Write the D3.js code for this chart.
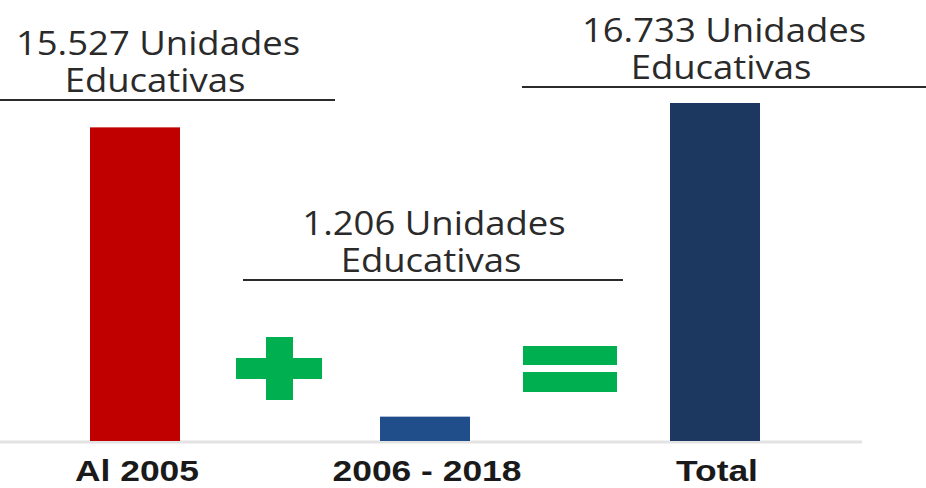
<!DOCTYPE html>
<html lang="es">
<head>
    <meta charset="UTF-8">
    <title>Unidades Educativas</title>
    <script src="https://d3js.org/d3.v7.min.js"></script>
    <style>
        html, body { margin: 0; padding: 0; background: #fff; }
        svg { display: block; }
    </style>
</head>
<body>
    <div id="chart"></div>
    <script>

// datos
const categories = ["Al 2005", "2006 - 2018", "Total"];
const values = [15527, 1206, 16733];
const barColors = ["#c00000", "#1f4e8a", "#1c3760"];
const labelLine1 = ["15.527 Unidades", "1.206 Unidades", "16.733 Unidades"];
const labelLine2 = ["Educativas", "Educativas", "Educativas"];

// layout of the annotation blocks (text offset from bar centre, underline y, underline span)
const annot = [
    { dx: 23, lineY: 100, x0: 0, x1: 335 },
    { dx: 9, lineY: 280, x0: 243, x1: 623 },
    { dx: 9, lineY: 87, x0: 522, x1: 930 }
];

const width = 926, height = 488;

const svg = d3.select("#chart").append("svg")
    .attr("width", width)
    .attr("height", height);

const x = d3.scaleBand()
    .domain(categories)
    .range([0, 850])
    .paddingInner(200 / 290)
    .paddingOuter(90 / 290);

const y = d3.scaleLinear()
    .domain([0, d3.max(values)])
    .range([441, 103]);

// baseline
svg.append("line")
    .attr("x1", 0).attr("x2", 862)
    .attr("y1", y(0) + 1).attr("y2", y(0) + 1)
    .attr("stroke", "#e3e3e3")
    .attr("stroke-width", 3);

// bars
svg.selectAll("rect.bar")
    .data(values)
    .enter().append("rect")
    .attr("class", "bar")
    .attr("x", (d, i) => x(categories[i]))
    .attr("y", d => y(d))
    .attr("width", x.bandwidth())
    .attr("height", d => y(0) - y(d))
    .attr("fill", (d, i) => barColors[i]);

// category labels
svg.selectAll("text.cat")
    .data(categories)
    .enter().append("text")
    .attr("class", "cat")
    .attr("transform", d => `translate(${x(d) + x.bandwidth() / 2 + 2},481) scale(1.18,1)`)
    .attr("text-anchor", "middle")
    .attr("font-family", "'Liberation Sans', Arial, sans-serif")
    .attr("font-weight", "bold")
    .attr("font-size", 30)
    .attr("fill", "#1a1a1a")
    .text(d => d);

// annotations
const g = svg.selectAll("g.annot")
    .data(categories)
    .enter().append("g")
    .attr("class", "annot");

g.append("line")
    .attr("x1", (d, i) => annot[i].x0)
    .attr("x2", (d, i) => annot[i].x1)
    .attr("y1", (d, i) => annot[i].lineY)
    .attr("y2", (d, i) => annot[i].lineY)
    .attr("stroke", "#2b2b2b")
    .attr("stroke-width", 2);

const textStyle = sel => sel
    .attr("text-anchor", "middle")
    .attr("font-family", "'Open Sans', 'Noto Sans', sans-serif")
    .attr("font-size", 32)
    .attr("fill", "#2a2a2a");

g.append("text")
    .call(textStyle)
    .attr("transform", (d, i) => `translate(${x(d) + x.bandwidth() / 2 + annot[i].dx},${annot[i].lineY - 45}) scale(1.14,1)`)
    .text((d, i) => labelLine1[i]);

g.append("text")
    .call(textStyle)
    .attr("transform", (d, i) => `translate(${x(d) + x.bandwidth() / 2 + annot[i].dx - 3},${annot[i].lineY - 8.5}) scale(1.14,1)`)
    .text((d, i) => labelLine2[i]);

// plus and equals signs between the bars
const green = "#00b050";
const mid1 = (x(categories[0]) + x(categories[1]) + x.bandwidth()) / 2;
const mid2 = (x(categories[1]) + x(categories[2]) + x.bandwidth()) / 2;

svg.append("rect").attr("x", mid1 - 44).attr("y", 358).attr("width", 86).attr("height", 21).attr("fill", green);
svg.append("rect").attr("x", mid1 - 14).attr("y", 337).attr("width", 27).attr("height", 63).attr("fill", green);

svg.append("rect").attr("x", mid2 - 47).attr("y", 346).attr("width", 94).attr("height", 19).attr("fill", green);
svg.append("rect").attr("x", mid2 - 47).attr("y", 372).attr("width", 94).attr("height", 20).attr("fill", green);

    </script>
</body>
</html>
